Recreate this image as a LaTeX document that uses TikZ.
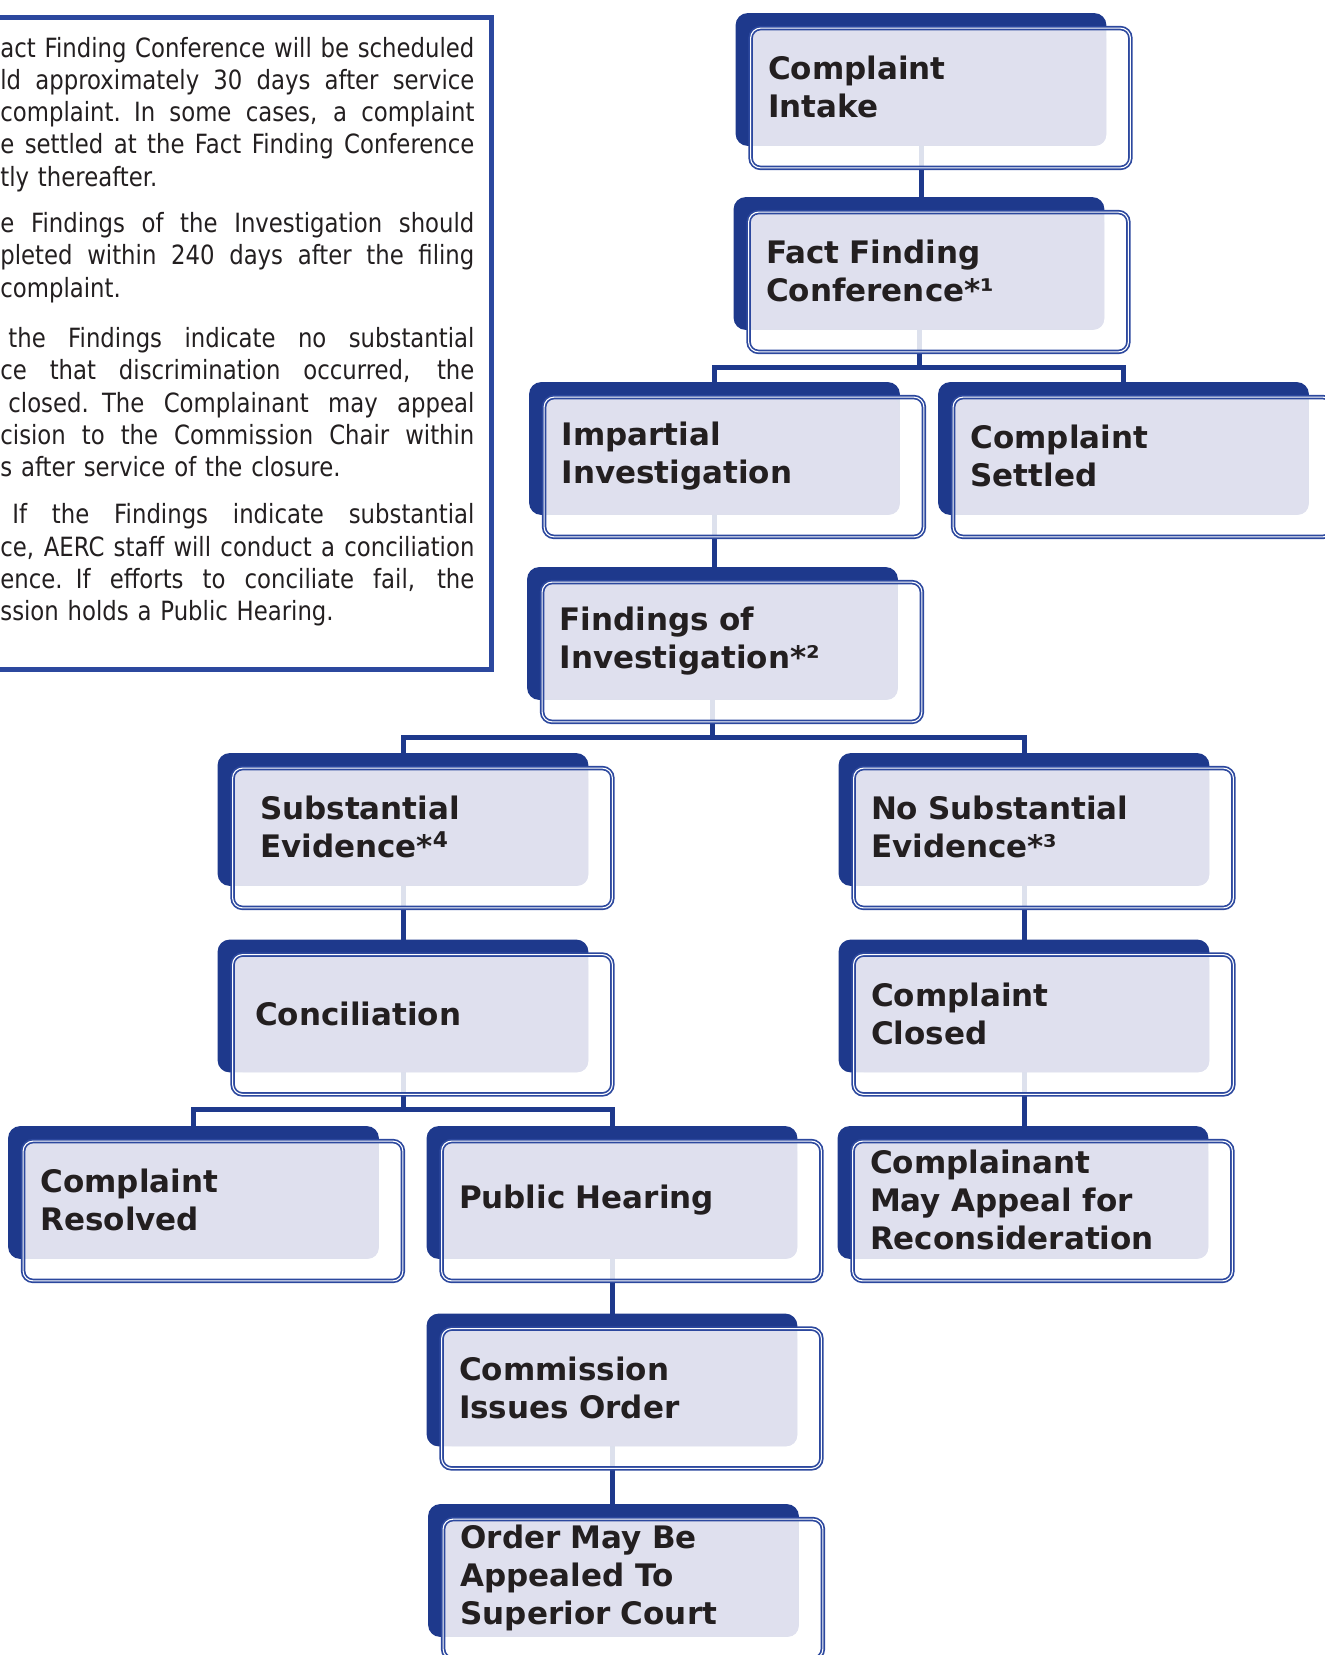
\documentclass[tikz,border=0pt]{standalone}
\usepackage{fontspec}
\usepackage{tikz}
\usetikzlibrary{positioning,calc}

\newfontfamily\stagefamily{DejaVu Sans}
\newfontfamily\notefamily[FakeStretch=0.86]{DejaVu Sans}

\definecolor{navy}{RGB}{30,57,140}
\definecolor{rimblue}{RGB}{44,72,158}
\definecolor{lavender}{RGB}{223,224,238}
\definecolor{inkblack}{RGB}{35,31,32}

\pgfdeclarelayer{links}
\pgfdeclarelayer{back}
\pgfsetlayers{links,back,main}

\tikzset{
  stagebox/.style={rectangle, rounded corners=5pt, fill=lavender, text=inkblack,
    text width=160.5pt, inner xsep=8.5pt, inner ysep=0pt, minimum height=58.5pt,
    align=left, font=\stagefamily\bfseries\fontsize{15.5pt}{19pt}\selectfont},
  backplate/.style={fill=navy, rounded corners=6pt},
  veil/.style={fill=white, fill opacity=.85, rounded corners=5pt},
  rim/.style={draw=rimblue, line width=0.85pt, double=white, double distance=0.55pt, rounded corners=5pt},
  connector/.style={draw=navy, line width=2.5pt},
  notebox/.style={draw=rimblue, line width=2.5pt, fill=white},
  notes/.style={inner sep=0pt, text width=237pt, align=left, text=inkblack,
    font=\notefamily\fontsize{13.25pt}{16.15pt}\selectfont}
}

% justified line, spaces stretch to fill the width
\newcommand{\fullline}[1]{\leavevmode\hbox to 237pt{\spaceskip=0.3em plus 1fil\relax #1}}

\begin{document}
\begin{tikzpicture}[x=0.5pt, y=-0.5pt]
\useasboundingbox (0,0) rectangle (1325,1655);

% Notes on the left
\draw[notebox] (-20,17) rectangle (491,669);
\node[notes, anchor=base west] (notes) at (0,57) {%
\fullline{act Finding Conference will be scheduled}\\
\fullline{ld approximately 30 days after service}\\
\fullline{complaint. In some cases, a complaint}\\
\fullline{e settled at the Fact Finding Conference}\\
tly thereafter.\\[7pt]
\fullline{e Findings of the Investigation should}\\
\fullline{pleted within 240 days after the filing}\\
complaint.\\[9pt]
\fullline{\hspace*{4pt}the Findings indicate no substantial}\\
\fullline{ce that discrimination occurred, the}\\
\fullline{\hspace*{4pt}closed. The Complainant may appeal}\\
\fullline{cision to the Commission Chair within}\\
s after service of the closure.\\[7.5pt]
\fullline{\hspace*{6pt}If the Findings indicate substantial}\\
\fullline{ce, AERC staff will conduct a conciliation}\\
\fullline{ence. If efforts to conciliate fail, the}\\
ssion holds a Public Hearing.};

% Stages
\node[stagebox] (intake) at (928.5,87) {Complaint\\Intake};
\node[stagebox] (fact) at (926.5,271) {Fact Finding\\Conference*¹};
\node[stagebox] (impartial) at (722,456) {Impartial\\Investigation};
\node[stagebox] (settled) at (1131,456) {Complaint\\Settled};
\node[stagebox] (findings) at (720,641) {Findings of\\Investigation*²};
\node[stagebox] (subst) at (410.5,827) {\hspace*{5pt}Substantial\\\hspace*{5pt}Evidence*\textsuperscript{4}};
\node[stagebox] (nosubst) at (1031.5,827) {No Substantial\\Evidence*³};
\node[stagebox] (concil) at (410.5,1013.5) {\hspace*{2.5pt}Conciliation};
\node[stagebox] (closed) at (1031.5,1013.5) {Complaint\\Closed};
\node[stagebox] (resolved) at (201,1200) {Complaint\\Resolved};
\node[stagebox] (hearing) at (619.5,1200) {Public Hearing};
\node[stagebox] (appeal) at (1030.5,1200) {Complainant\\May Appeal for\\Reconsideration};
\node[stagebox] (commission) at (619.5,1387.5) {Commission\\Issues Order};
\node[stagebox] (order) at (621,1578) {Order May Be\\Appealed To\\Superior Court};

% Plates behind the stages
\begin{pgfonlayer}{back}
\foreach \n in {intake,fact,impartial,settled,findings,subst,nosubst,concil,closed,resolved,hearing,appeal,commission,order} {
  \fill[backplate] ([shift={(-15,-15)}]\n.north west) rectangle (\n.south east);
  \fill[veil] (\n.north west) rectangle ([shift={(24,22)}]\n.south east);
}
\end{pgfonlayer}

\foreach \n in {intake,fact,impartial,settled,findings,subst,nosubst,concil,closed,resolved,hearing,appeal,commission,order}
  \draw[rim] (\n.north west) rectangle ([shift={(24,22)}]\n.south east);

% Connectors
\begin{pgfonlayer}{links}
\draw[connector] ([xshift=-3.75pt]intake.south) -- ([xshift=-3.75pt]intake.south |- fact.north);
\draw[connector] ([xshift=-3.75pt]fact.south) -- ++(0,37.5) -| ([xshift=-3.75pt]impartial.north);
\draw[connector] ([xshift=-3.75pt]fact.south) -- ++(0,37.5) -| ([xshift=-3.75pt]settled.north);
\draw[connector] ([xshift=-3.75pt]impartial.south) -- ([xshift=-3.75pt]impartial.south |- findings.north);
\draw[connector] ([xshift=-3.75pt]findings.south) -- ++(0,37.5) -| ([xshift=-3.75pt]subst.north);
\draw[connector] ([xshift=-3.75pt]findings.south) -- ++(0,37.5) -| ([xshift=-3.75pt]nosubst.north);
\draw[connector] ([xshift=-3.75pt]subst.south) -- ([xshift=-3.75pt]subst.south |- concil.north);
\draw[connector] ([xshift=-3.75pt]nosubst.south) -- ([xshift=-3.75pt]nosubst.south |- closed.north);
\draw[connector] ([xshift=-3.75pt]concil.south) -- ++(0,37.5) -| ([xshift=-3.75pt]resolved.north);
\draw[connector] ([xshift=-3.75pt]concil.south) -- ++(0,37.5) -| ([xshift=-3.75pt]hearing.north);
\draw[connector] ([xshift=-3.75pt]closed.south) -- ([xshift=-3.75pt]closed.south |- appeal.north);
\draw[connector] ([xshift=-3.75pt]hearing.south) -- ([xshift=-3.75pt]hearing.south |- commission.north);
\draw[connector] ([xshift=-3.75pt]commission.south) -- ([xshift=-3.75pt]commission.south |- order.north);
\end{pgfonlayer}
\end{tikzpicture}
\end{document}
